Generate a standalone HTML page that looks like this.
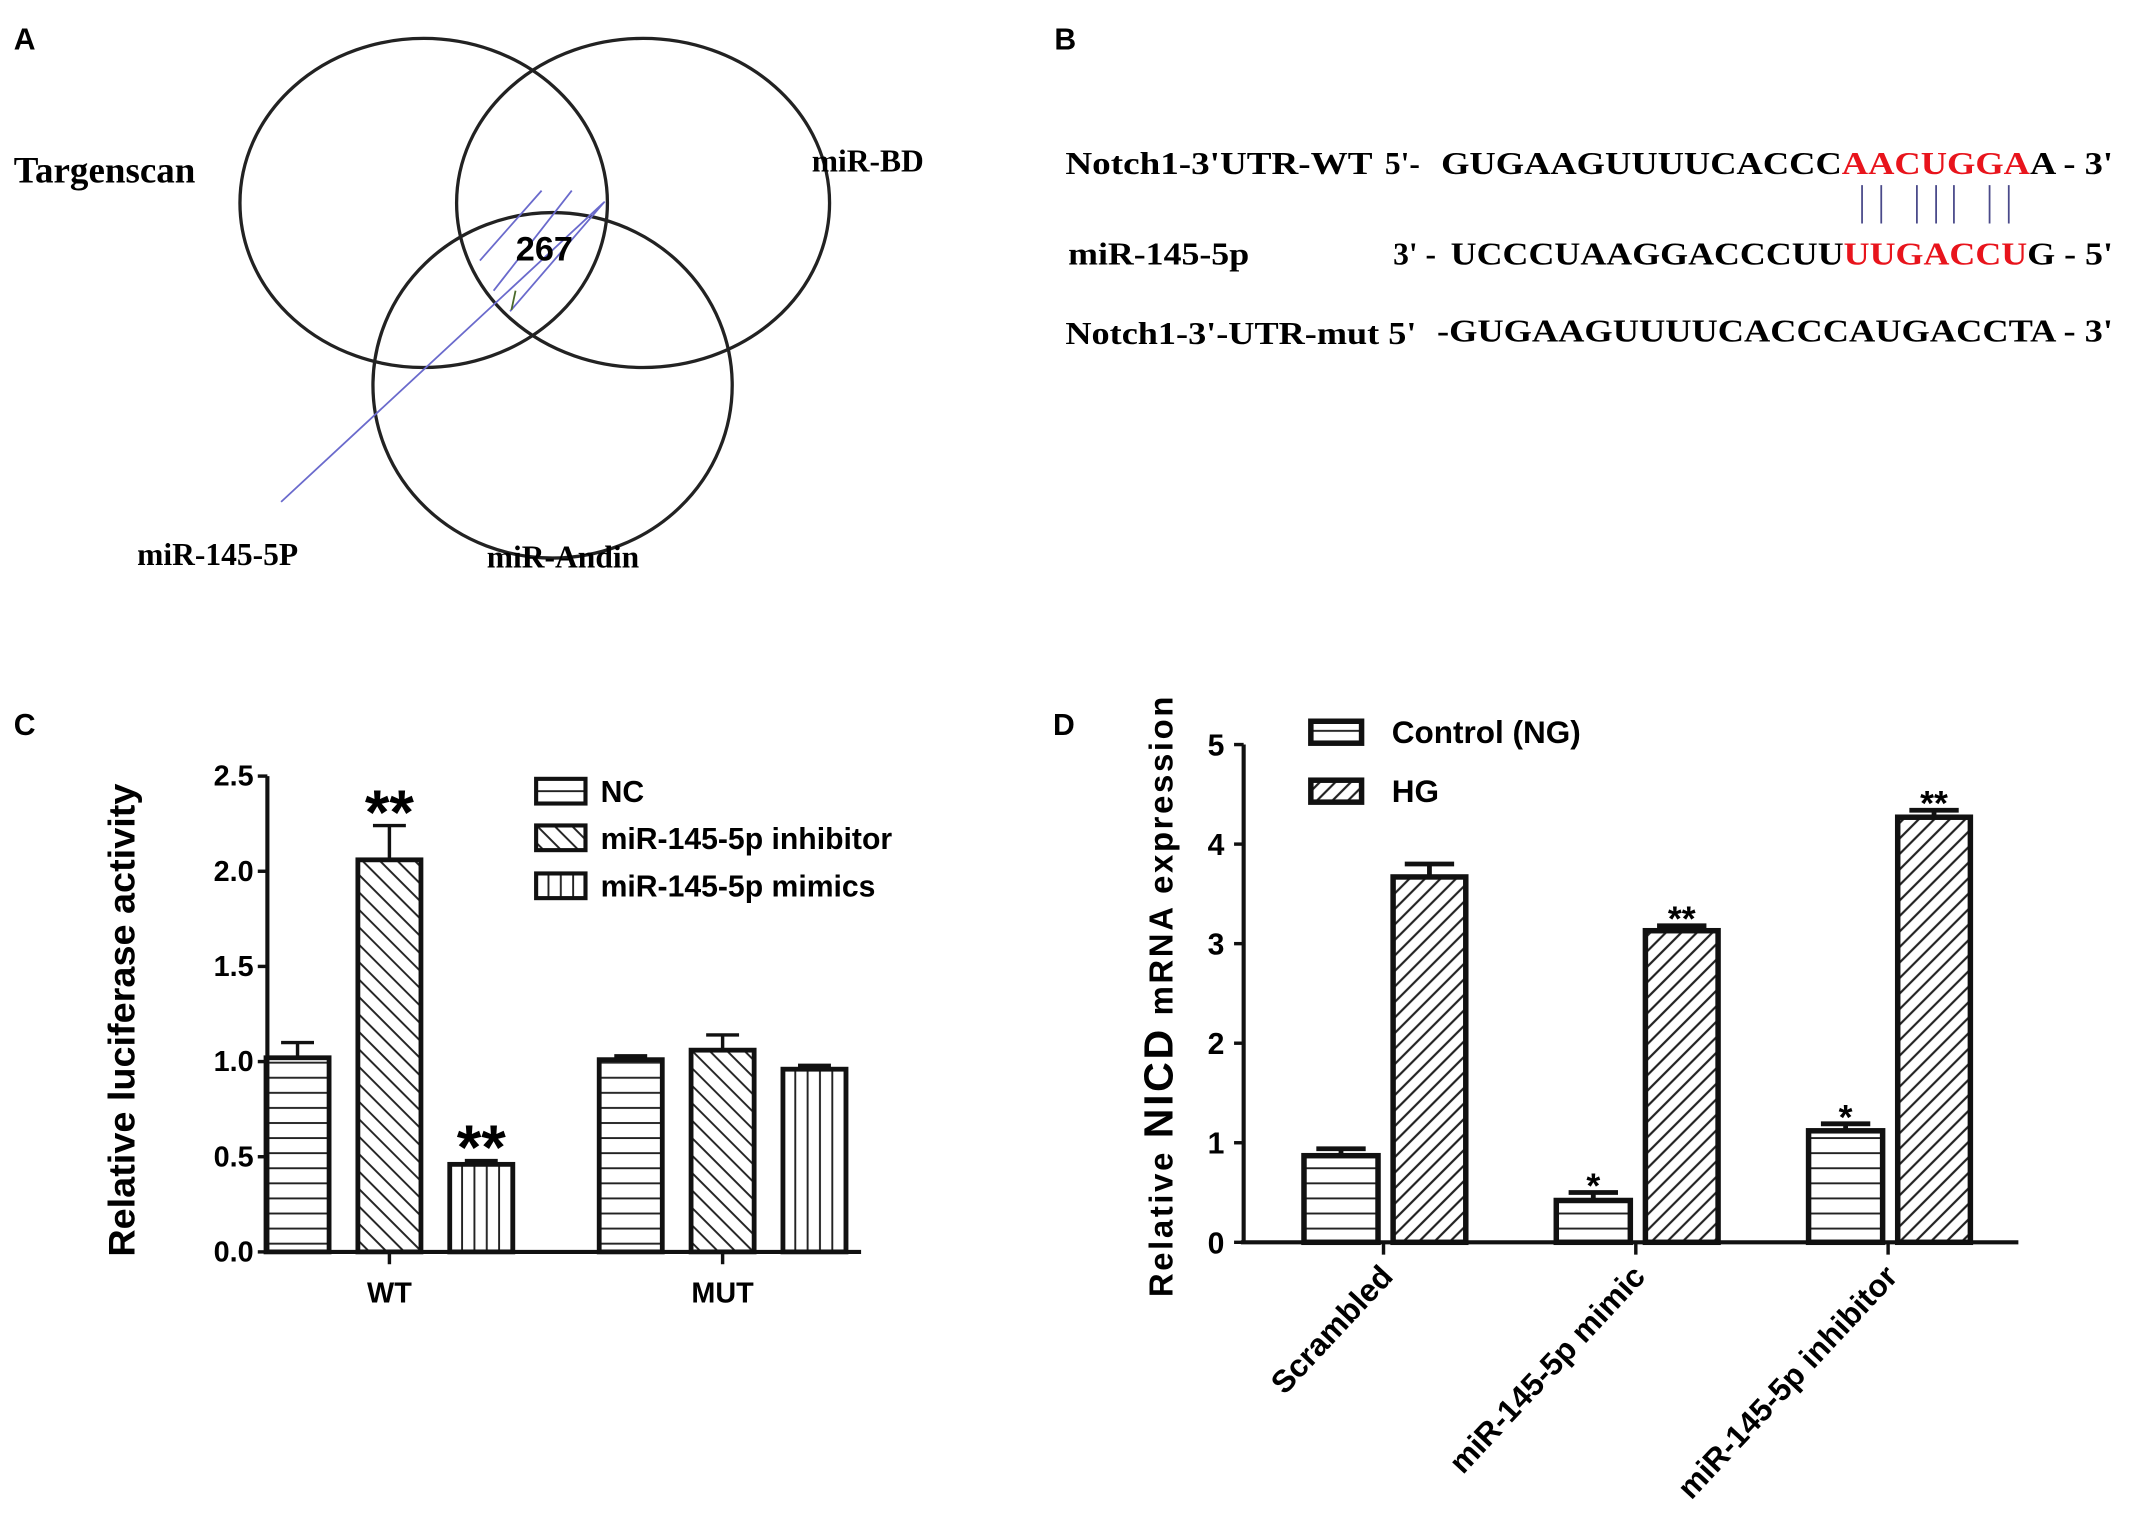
<!DOCTYPE html>
<html><head><meta charset="utf-8"><style>
html,body{margin:0;padding:0;background:#fff;}
svg{display:block;}
.sans{font-family:"Liberation Sans",sans-serif;font-weight:bold;}
.serif{font-family:"Liberation Serif",serif;font-weight:bold;}
</style></head><body>
<svg id="fig" width="2150" height="1533" viewBox="0 0 1568 1118" xmlns="http://www.w3.org/2000/svg">
<defs>
<pattern id="pH" patternUnits="userSpaceOnUse" width="10" height="11"><line x1="0" y1="5" x2="10" y2="5" stroke="#222" stroke-width="1.4"/></pattern>
<pattern id="pV" patternUnits="userSpaceOnUse" width="9" height="10"><line x1="4" y1="0" x2="4" y2="10" stroke="#222" stroke-width="1.4"/></pattern>
<pattern id="pB" patternUnits="userSpaceOnUse" width="9" height="9" patternTransform="rotate(-45)"><line x1="4" y1="0" x2="4" y2="9" stroke="#222" stroke-width="1.4"/></pattern>
<pattern id="pF" patternUnits="userSpaceOnUse" width="8" height="8" patternTransform="rotate(45)"><line x1="4" y1="0" x2="4" y2="8" stroke="#222" stroke-width="1.6"/></pattern>
</defs>

<!-- Panel A -->
<g>
<text class="sans" x="10" y="36" font-size="22">A</text>
<ellipse cx="309" cy="148" rx="134" ry="120" fill="none" stroke="#222" stroke-width="2.4"/>
<ellipse cx="469" cy="148" rx="136" ry="120" fill="none" stroke="#222" stroke-width="2.4"/>
<ellipse cx="403" cy="281" rx="131" ry="126" fill="none" stroke="#222" stroke-width="2.4"/>
<g stroke="#6a6acc" stroke-width="1.3">
<line x1="350" y1="190" x2="395" y2="139"/><line x1="360" y1="212" x2="417" y2="139"/><line x1="372" y1="227" x2="441" y2="147"/><line x1="205" y1="366" x2="440" y2="148"/>
</g>
<line x1="376" y1="212" x2="373" y2="226" stroke="#4a6a2a" stroke-width="1.3"/>
<text class="serif" x="10" y="133" font-size="27">Targenscan</text>
<text class="serif" x="592" y="125" font-size="23">miR-BD</text>
<text class="sans" x="397" y="190" font-size="25" text-anchor="middle">267</text>
<text class="serif" x="100" y="412" font-size="23">miR-145-5P</text>
<text class="serif" x="355" y="414" font-size="23">miR-Andin</text>
</g>

<!-- Panel B -->
<g class="serif" font-size="23">
<text class="sans" x="769" y="36" font-size="22">B</text>
<text x="777" y="127" textLength="224" lengthAdjust="spacingAndGlyphs">Notch1-3'UTR-WT</text>
<text x="1010" y="127">5'-</text>
<text x="1051" y="127" textLength="490" lengthAdjust="spacingAndGlyphs">GUGAAGUUUUCACCC<tspan fill="#e8141c">AACUGGA</tspan>A - 3'</text>
<g stroke="#4a4a8a" stroke-width="1.3">
<line x1="1358" y1="135" x2="1358" y2="163"/><line x1="1372" y1="135" x2="1372" y2="163"/><line x1="1398" y1="135" x2="1398" y2="163"/><line x1="1412" y1="135" x2="1412" y2="163"/><line x1="1425" y1="135" x2="1425" y2="163"/><line x1="1451" y1="135" x2="1451" y2="163"/><line x1="1465" y1="135" x2="1465" y2="163"/>
</g>
<text x="779" y="193" textLength="132" lengthAdjust="spacingAndGlyphs">miR-145-5p</text>
<text x="1016" y="193">3' -</text>
<text x="1058" y="193" textLength="483" lengthAdjust="spacingAndGlyphs">UCCCUAAGGACCCUU<tspan fill="#e8141c">UUGACCU</tspan>G - 5'</text>
<text x="777" y="251" textLength="256" lengthAdjust="spacingAndGlyphs">Notch1-3'-UTR-mut 5'</text>
<text x="1048" y="249" textLength="493" lengthAdjust="spacingAndGlyphs">-GUGAAGUUUUCACCCAUGACCTA - 3'</text>
</g>

<g id="chartC"></g>
<g id="chartD"></g>
</svg>
<script>
// ===== Panel C data =====
const cGroups = ["WT", "MUT"];
const cSeries = ["NC", "miR-145-5p inhibitor", "miR-145-5p mimics"];
const cValsNC = [1.02, 1.01];
const cValsInh = [2.06, 1.06];
const cValsMim = [0.46, 0.96];
const cErrNC = [0.08, 0.02];
const cErrInh = [0.18, 0.08];
const cErrMim = [0.02, 0.02];
const cTicks = ["0.0", "0.5", "1.0", "1.5", "2.0", "2.5"];
const cStars = [["", ""], ["**", ""], ["**", ""]];
// ===== Panel D data =====
const dGroups = ["Scrambled", "miR-145-5p mimic", "miR-145-5p inhibitor"];
const dSeries = ["Control (NG)", "HG"];
const dValsNG = [0.87, 0.42, 1.12];
const dValsHG = [3.67, 3.13, 4.27];
const dErrNG = [0.07, 0.08, 0.07];
const dErrHG = [0.13, 0.05, 0.07];
const dTicks = ["0", "1", "2", "3", "4", "5"];
const dStarsNG = ["", "*", "*"];
const dStarsHG = ["", "**", "**"];

const NS = "http://www.w3.org/2000/svg";
function mk(parent, tag, attrs) {
  const e = document.createElementNS(NS, tag);
  for (const k in attrs) e.setAttribute(k, attrs[k]);
  parent.appendChild(e);
  return e;
}

// ---- Chart C ----
(function () {
  const g = document.getElementById('chartC');
  const y0 = 913, yTop = 566, vMax = 2.5;
  const yS = v => y0 - (v / vMax) * (y0 - yTop);
  const axX = 195;
  const groupCenters = [284, 527];
  const offs = [-67, 0, 67];
  const bw = 46;
  const fills = ["url(#pH)", "url(#pB)", "url(#pV)"];
  const vals = [cValsNC, cValsInh, cValsMim];
  const errs = [cErrNC, cErrInh, cErrMim];
  const t = mk(g, 'text', {x: 10, y: 536, 'font-size': 22, class: 'sans'});
  t.textContent = 'C';
  
  
  for (let s = 0; s < 3; s++) {
    for (let i = 0; i < cGroups.length; i++) {
      const cx = groupCenters[i] + offs[s];
      const v = vals[s][i], e = errs[s][i];
      const ln = mk(g, 'path', {d: `M${cx} ${yS(v)} V${yS(v + e)} M${cx - 12} ${yS(v + e)} H${cx + 12}`, stroke: '#111', 'stroke-width': 2.5, fill: 'none'});
      
      
      const r = mk(g, 'rect', {x: cx - bw / 2, y: yS(v), width: bw, height: y0 - yS(v), fill: fills[s], stroke: '#111', 'stroke-width': 3.5});
      
      
      if (cStars[s][i]) {
        const st = mk(g, 'text', {x: cx, y: yS(v + e) + 6, 'text-anchor': 'middle', 'font-size': 46, class: 'sans'});
        st.textContent = cStars[s][i];
        
        
      }
    }
  }
  const ax = mk(g, 'path', {d: `M${axX} ${yTop} V${y0} M${axX - 2} ${y0} H628`, stroke: '#111', 'stroke-width': 3, fill: 'none'});
  
  
  cTicks.forEach((lb) => {
    const v = parseFloat(lb);
    const tk = mk(g, 'line', {x1: axX - 7, x2: axX, y1: yS(v), y2: yS(v), stroke: '#111', 'stroke-width': 2.5});
    
    
    const tl = mk(g, 'text', {x: axX - 10, y: yS(v) + 7, 'text-anchor': 'end', 'font-size': 21, class: 'sans'});
    tl.textContent = lb;
    
    
  });
  cGroups.forEach((lb, i) => {
    const tk = mk(g, 'line', {x1: groupCenters[i], x2: groupCenters[i], y1: y0, y2: y0 + 9, stroke: '#111', 'stroke-width': 2.5});
    
    
    const tl = mk(g, 'text', {x: groupCenters[i], y: 950, 'text-anchor': 'middle', 'font-size': 21, class: 'sans'});
    tl.textContent = lb;
    
    
  });
  const yt = mk(g, 'text', {x: 0, y: 0, transform: 'translate(98 744) rotate(-90)', 'text-anchor': 'middle', 'font-size': 27, class: 'sans', textLength: 345, lengthAdjust: 'spacingAndGlyphs'});
  yt.textContent = 'Relative luciferase activity';
  
  
  const ly = [577, 611, 646];
  cSeries.forEach((nm, s) => {
    const b = mk(g, 'rect', {x: 391, y: ly[s] - 9, width: 36, height: 18, fill: fills[s], stroke: '#111', 'stroke-width': 3});
    
    
    const lt = mk(g, 'text', {x: 438, y: ly[s] + 8, 'font-size': 22, class: 'sans'});
    lt.textContent = nm;
    
    
  });
})();

// ---- Chart D ----
(function () {
  const g = document.getElementById('chartD');
  const y0 = 906, yTop = 543, vMax = 5;
  const yS = v => y0 - (v / vMax) * (y0 - yTop);
  const axX = 907;
  const centers = [1009, 1193, 1377];
  const t = mk(g, 'text', {x: 768, y: 536, 'font-size': 22, class: 'sans'});
  t.textContent = 'D';
  
  
  const series = [
    {vals: dValsNG, errs: dErrNG, fill: 'url(#pH)', x0: -58, x1: -4, stars: dStarsNG, name: 'ng'},
    {vals: dValsHG, errs: dErrHG, fill: 'url(#pF)', x0: 7, x1: 60, stars: dStarsHG, name: 'hg'}
  ];
  series.forEach(s => {
    dGroups.forEach((gn, i) => {
      const xl = centers[i] + s.x0, xr = centers[i] + s.x1, cx = (xl + xr) / 2;
      const v = s.vals[i], e = s.errs[i];
      const eb = mk(g, 'path', {d: `M${cx} ${yS(v)} V${yS(v + e)} M${cx - 18} ${yS(v + e)} H${cx + 18}`, stroke: '#111', 'stroke-width': 3.5, fill: 'none'});
      
      
      const r = mk(g, 'rect', {x: xl, y: yS(v), width: xr - xl, height: y0 - yS(v), fill: s.fill, stroke: '#111', 'stroke-width': 4});
      
      
      if (s.stars[i]) {
        const st = mk(g, 'text', {x: cx, y: yS(v + e) + 14, 'text-anchor': 'middle', 'font-size': 26, class: 'sans', 'font-weight': 'normal', dy: '-10'});
        st.textContent = s.stars[i];
        
        
      }
    });
  });
  const ax = mk(g, 'path', {d: `M${axX} ${yTop} V${y0} M${axX - 2} ${y0} H1472`, stroke: '#111', 'stroke-width': 3, fill: 'none'});
  
  
  dTicks.forEach(lb => {
    const v = parseFloat(lb);
    const tk = mk(g, 'line', {x1: axX - 7, x2: axX, y1: yS(v), y2: yS(v), stroke: '#111', 'stroke-width': 2.5});
    
    
    const tl = mk(g, 'text', {x: axX - 14, y: yS(v) + 8, 'text-anchor': 'end', 'font-size': 22, class: 'sans'});
    tl.textContent = lb;
    
    
  });
  dGroups.forEach((lb, i) => {
    const tk = mk(g, 'line', {x1: centers[i], x2: centers[i], y1: y0, y2: y0 + 9, stroke: '#111', 'stroke-width': 2.5});
    
    
    const tl = mk(g, 'text', {x: 0, y: 0, transform: `translate(${centers[i] + 8} ${y0 + 26}) rotate(-47)`, 'text-anchor': 'end', 'font-size': 23, class: 'sans'});
    tl.textContent = lb;
    
    
  });
  const yt = mk(g, 'text', {x: 0, y: 0, transform: 'translate(855 727) rotate(-90)', 'text-anchor': 'middle', 'font-size': 24, class: 'sans', textLength: 438, lengthAdjust: 'spacing'});
  yt.innerHTML = 'Relative   <tspan font-size="30">NICD</tspan>   mRNA expression';
  
  
  const ly = [534, 577];
  const lf = ['url(#pH)', 'url(#pF)'];
  dSeries.forEach((nm, s) => {
    const b = mk(g, 'rect', {x: 956, y: ly[s] - 8, width: 37, height: 16, fill: lf[s], stroke: '#111', 'stroke-width': 4});
    
    
    const lt = mk(g, 'text', {x: 1015, y: ly[s] + 8, 'font-size': 23, class: 'sans'});
    lt.textContent = nm;
    
    
  });
})();
</script>
</body></html>
